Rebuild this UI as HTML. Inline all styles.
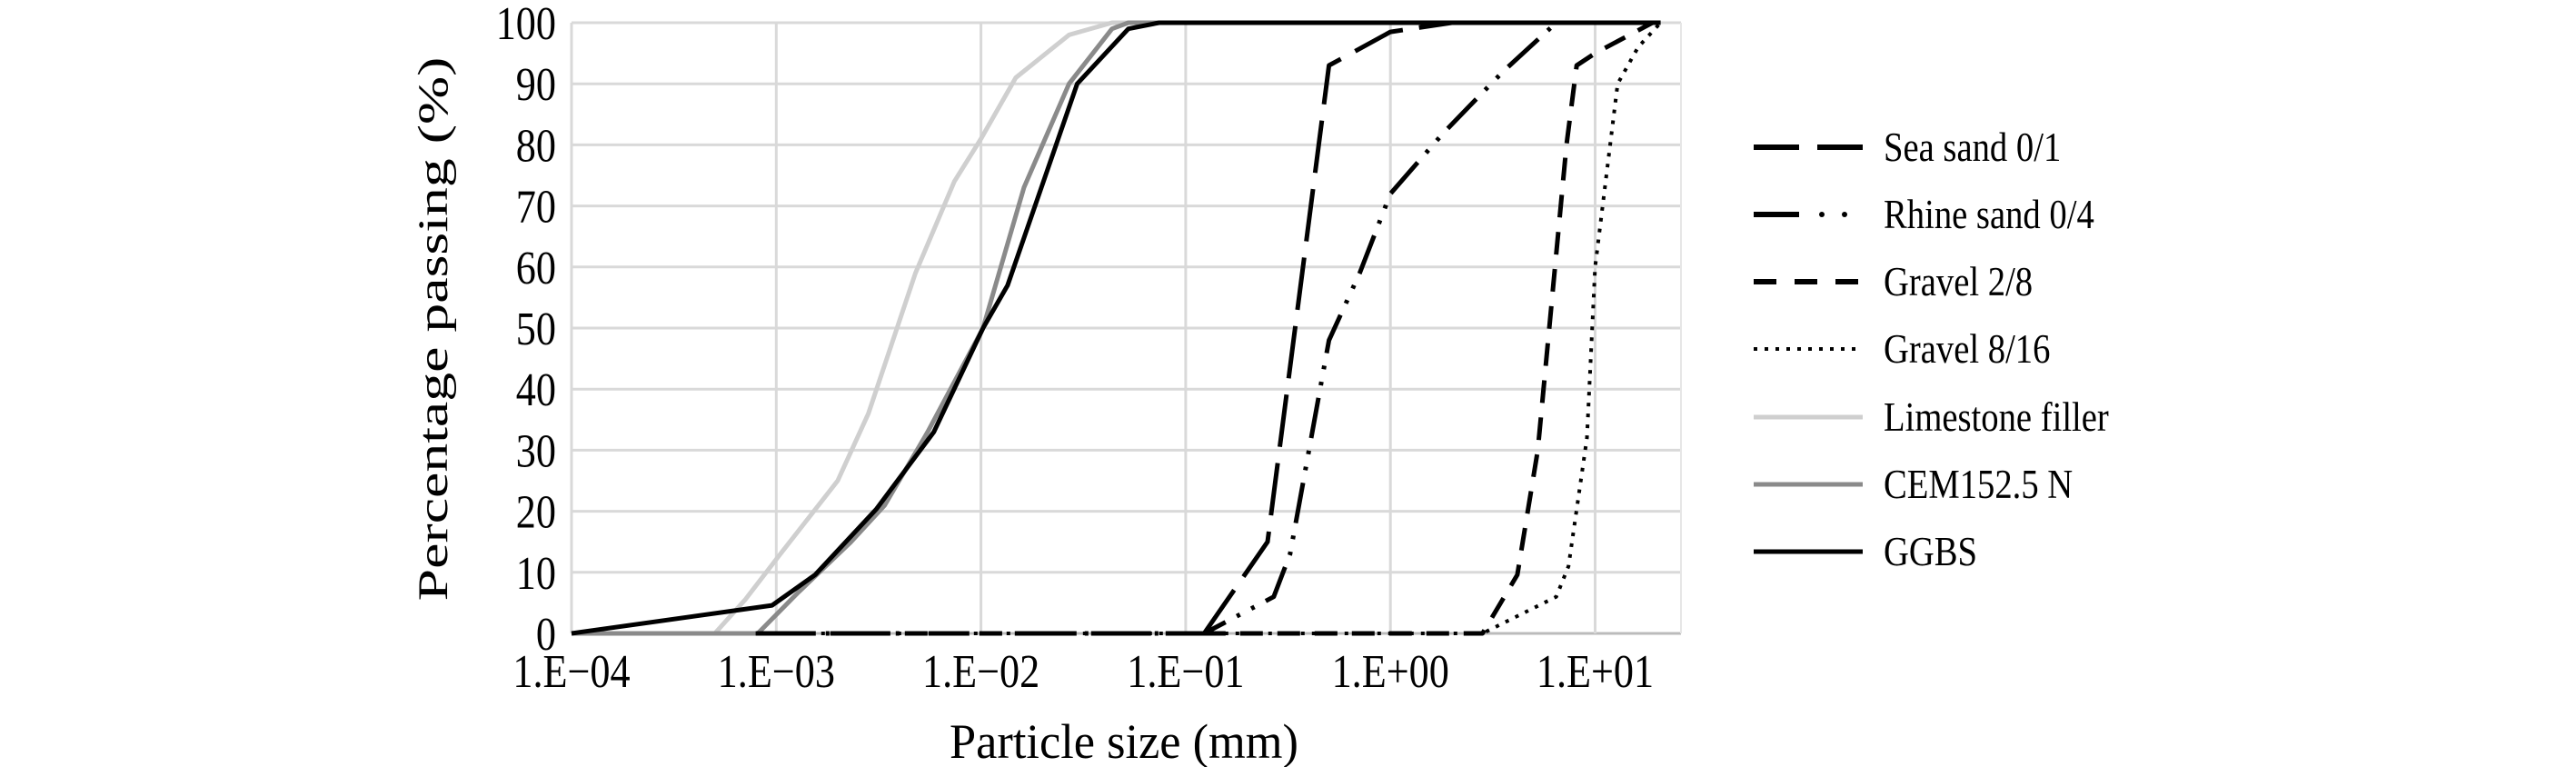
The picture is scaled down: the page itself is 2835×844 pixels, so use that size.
<!DOCTYPE html>
<html><head><meta charset="utf-8"><style>
html,body{margin:0;padding:0;background:#fff;}
svg{display:block;}
text{font-family:"Liberation Serif",serif;fill:#000;}
</style></head><body>
<svg id="s" width="2835" height="844" viewBox="0 0 2835 844" xmlns="http://www.w3.org/2000/svg">
<g id="grid"></g>
<g id="series"></g>
<g font-size="52" text-anchor="end" id="yt"></g>
<g font-size="52" text-anchor="middle" id="xt"></g>
<text transform="translate(492,362) rotate(-90) scale(1.45,1.05)" font-size="44" text-anchor="middle">Percentage passing (%)</text>
<text transform="translate(1237,834) scale(0.97,1)" font-size="54" text-anchor="middle">Particle size (mm)</text>
<g stroke-width="6" fill="none">
<line x1="1930" y1="162" x2="2050" y2="162" stroke="#000" stroke-dasharray="50,20"/>
<line x1="1930" y1="236" x2="1980" y2="236" stroke="#000"/>
<circle cx="2005" cy="236" r="3" fill="#000" stroke="none"/>
<circle cx="2030" cy="236" r="3" fill="#000" stroke="none"/>
<line x1="1930" y1="310" x2="2050" y2="310" stroke="#000" stroke-dasharray="25,20"/>
<line x1="1930" y1="384" x2="2046" y2="384" stroke="#000" stroke-width="4" stroke-dasharray="4,8"/>
<line x1="1930" y1="459" x2="2050" y2="459" stroke="#cfcfcf" stroke-width="5"/>
<line x1="1930" y1="533" x2="2050" y2="533" stroke="#8a8a8a" stroke-width="5"/>
<line x1="1930" y1="607" x2="2050" y2="607" stroke="#000" stroke-width="5"/>
</g>
<g font-size="46">
<text transform="translate(2073,177) scale(0.84,1)">Sea sand 0/1</text>
<text transform="translate(2073,251) scale(0.84,1)">Rhine sand 0/4</text>
<text transform="translate(2073,325) scale(0.84,1)">Gravel 2/8</text>
<text transform="translate(2073,399) scale(0.84,1)">Gravel 8/16</text>
<text transform="translate(2073,474) scale(0.84,1)">Limestone filler</text>
<text transform="translate(2073,548) scale(0.84,1)">CEM152.5 N</text>
<text transform="translate(2073,622) scale(0.84,1)">GGBS</text>
</g>
</svg>
<script>
var NS="http://www.w3.org/2000/svg";
var L=629,D=225.3,T=25,B=697,R=1850;
function X(lg){return L+(lg+4)*D;}
function Y(p){return B-p*(B-T)/100;}
function el(p,n,a){var e=document.createElementNS(NS,n);for(var k in a)e.setAttribute(k,a[k]);p.appendChild(e);return e;}
var g=document.getElementById('grid');
for(var i=0;i<=10;i++){el(g,'line',{x1:L,x2:R,y1:Y(i*10),y2:Y(i*10),stroke:i==0?'#bbb':'#d9d9d9','stroke-width':3});
 var t=el(document.getElementById('yt'),'text',{transform:'translate(612,'+(Y(i*10)+18)+') scale(0.85,1)'});t.textContent=i*10;}
var lab=["1.E\u221204","1.E\u221203","1.E\u221202","1.E\u221201","1.E+00","1.E+01"];
for(var j=0;j<6;j++){var x=X(j-4);el(g,'line',{x1:x,x2:x,y1:T,y2:B,stroke:'#d9d9d9','stroke-width':3});
 var t=el(document.getElementById('xt'),'text',{transform:'translate('+x+',756) scale(0.85,1)'});t.textContent=lab[j];}
el(g,'line',{x1:R,x2:R,y1:T,y2:B,stroke:'#e6e6e6','stroke-width':2});
var S=document.getElementById('series');
function line(pts,st,w,da){var s=pts.map(function(p){return X(p[0]).toFixed(1)+','+Y(p[1]).toFixed(1)}).join(' ');
 var a={points:s,fill:'none',stroke:st,'stroke-width':w,'stroke-linejoin':'round'};if(da)a['stroke-dasharray']=da;el(S,'polyline',a);}
line([[-4,0],[-3.3,0],[-3.15,5.6],[-2.98,13],[-2.7,25],[-2.55,36],[-2.32,59],[-2.13,74],[-2.0,81],[-1.83,91],[-1.57,98],[-1.36,100],[-1.2,100]],'#cfcfcf',5);
line([[-4,0],[-3.09,0],[-2.89,6.8],[-2.64,14.8],[-2.47,21],[-2.26,33],[-1.99,50],[-1.79,73],[-1.57,90],[-1.36,99],[-1.28,100],[-1.1,100]],'#8a8a8a',5);
line([[-4,0],[-3.02,4.6],[-2.81,9.6],[-2.51,20.4],[-2.23,33],[-1.99,50],[-1.87,57],[-1.53,90],[-1.28,99],[-1.13,100],[1.32,100]],'#000',5);
line([[-3.1,0],[0.45,0],[0.62,9.6],[0.72,30],[0.86,80],[0.91,93],[1.0,95],[1.28,100],[1.32,100]],'#000',5,'25,16');
line([[-3.1,0],[0.45,0],[0.81,6],[0.87,11],[0.96,32],[1.0,60],[1.11,90],[1.21,96],[1.32,100]],'#000',4,'4,8');
line([[-3.1,0],[-0.91,0],[-0.57,6],[-0.49,13],[-0.3,48],[-0.15,59],[0,72],[0.26,82],[0.55,92],[0.81,100],[1.0,100]],'#000',5,'45,14,4,14,4,14');
line([[-0.91,0],[-0.6,15],[-0.3,93],[0,98.5],[0.3,100],[0.8,100]],'#000',5,'58,18');
</script>
</body></html>
